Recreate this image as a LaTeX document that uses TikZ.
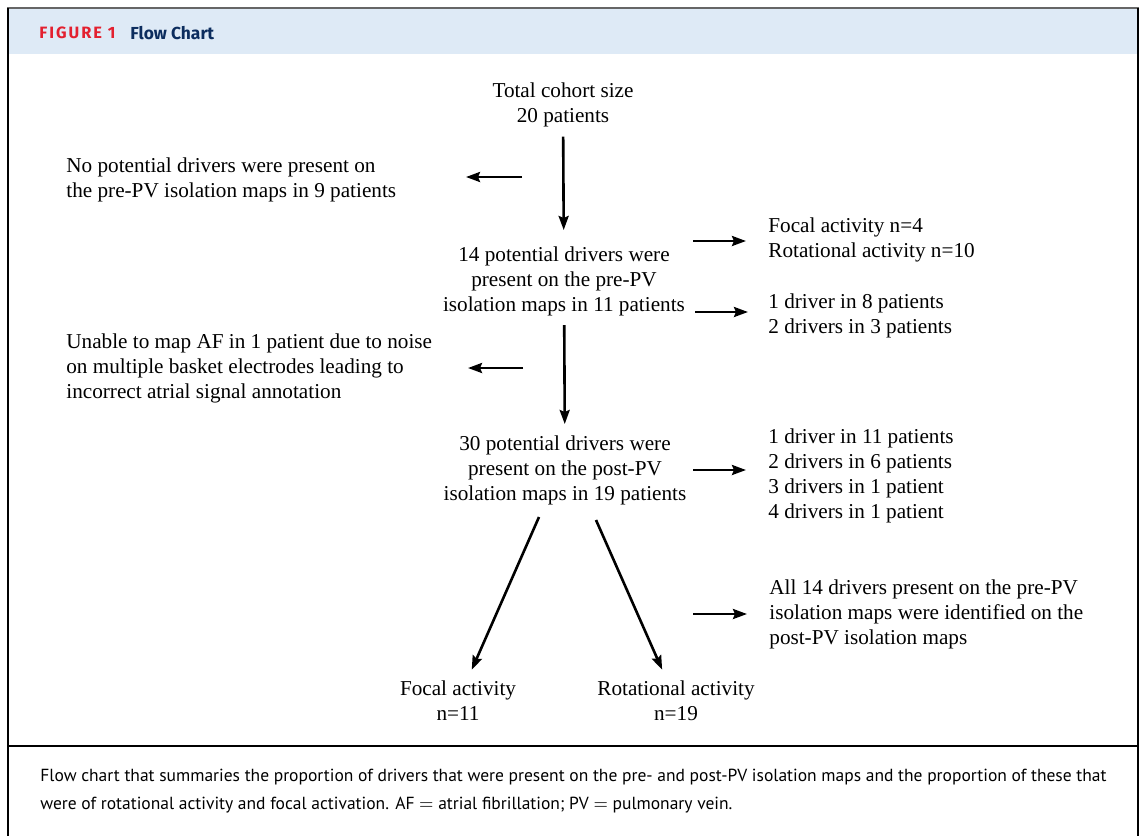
\documentclass[tikz,border=0pt]{standalone}
\usepackage{fontspec}
\setmainfont{Liberation Serif}
\setsansfont{PT Sans}
\newfontfamily\headfont{Fira Sans}
\usetikzlibrary{arrows.meta}
\definecolor{bandblue}{HTML}{DEEAF6}
\definecolor{figred}{HTML}{E3202F}
\definecolor{titlenavy}{HTML}{0C2D5E}

\begin{document}
\begin{tikzpicture}[x=0.5pt, y=-0.5pt,
    box/.style={inner sep=0pt, font=\fontsize{10.6}{12.5}\selectfont},
    mid/.style={box, align=center},
    side/.style={box, align=left, anchor=west},
    arr/.style={-{Stealth[length=7pt, width=5pt, inset=1pt]}, line width=1.3pt}]
    \useasboundingbox (0,0) rectangle (1142,836);
    % frame and header
    \fill[bandblue] (8,9) rectangle (1138,54);
    \draw[black!60, line width=1pt] (7,8) -- (1139,8);
    \draw[line width=1pt] (8,8) -- (8,836);
    \draw[line width=1pt] (1138,8) -- (1138,836);
    \draw[line width=0.8pt] (8,746) -- (1138,746);
    \node[anchor=west, inner sep=0pt, text=figred, font=\headfont\bfseries\fontsize{8.2}{9}\selectfont\addfontfeatures{LetterSpace=12}] (fig) at (39,33) {FIGURE 1};
    \node[anchor=west, inner sep=0pt, text=titlenavy, font=\headfont\bfseries\fontsize{8.7}{9}\selectfont] (title) at (130,33) {Flow Chart};
    % flow chart
    \node[mid] (total) at (563,105) {Total cohort size\\20 patients};
    \node[side] (nopd) at (66,180) {No potential drivers were present on\\the pre-PV isolation maps in 9 patients};
    \node[mid] (pre) at (564,281) {14 potential drivers were\\present on the pre-PV\\isolation maps in 11 patients};
    \node[side] (foc) at (768,240) {Focal activity n=4\\Rotational activity n=10};
    \node[side] (drv) at (768,316) {1 driver in 8 patients\\2 drivers in 3 patients};
    \node[side] (unable) at (66,368) {Unable to map AF in 1 patient due to noise\\on multiple basket electrodes leading to\\incorrect atrial signal annotation};
    \node[mid] (post) at (565,470) {30 potential drivers were\\present on the post-PV\\isolation maps in 19 patients};
    \node[side] (cnt) at (768,476) {1 driver in 11 patients\\2 drivers in 6 patients\\3 drivers in 1 patient\\4 drivers in 1 patient};
    \node[side] (all) at (769,614) {All 14 drivers present on the pre-PV\\isolation maps were identified on the\\post-PV isolation maps};
    \node[mid] (focal) at (458,701) {Focal activity\\n=11};
    \node[mid] (rot) at (676,701) {Rotational activity\\n=19};
    % free arrow ends
    \coordinate (l1a) at (522,177);
    \coordinate (l1b) at (466,177);
    \coordinate (l2a) at (523,368);
    \coordinate (l2b) at (468,368);
    \coordinate (r1) at (693,241);
    \coordinate (r2) at (695,312);
    \coordinate (r3) at (693,470);
    \coordinate (r4) at (693,614);
    \coordinate (pl) at (539,517);
    \coordinate (pr) at (596,520);
    % arrows
    \draw[arr, shorten <=4.5pt, shorten >=8pt] (total) -- (pre);
    \draw[arr, shorten <=4.5pt, shorten >=5.5pt] (pre) -- (post);
    \draw[arr] (l1a) -- (l1b);
    \draw[arr] (l2a) -- (l2b);
    \draw[arr, shorten >=11pt] (r1) -- (r1 -| foc.west);
    \draw[arr, shorten >=10pt] (r2) -- (r2 -| drv.west);
    \draw[arr, shorten >=11pt] (r3) -- (r3 -| cnt.west);
    \draw[arr, shorten >=11pt] (r4) -- (r4 -| all.west);
    \draw[arr, shorten >=6pt] (pl) -- (focal);
    \draw[arr, shorten >=6pt] (pr) -- (rot);
    % caption
    \node[anchor=west, align=left, inner sep=0pt, font=\sffamily\fontsize{8.75}{14}\selectfont] (cap) at (40,791) {Flow chart that summaries the proportion of drivers that were present on the pre- and post-PV isolation maps and the proportion of these that\\were of rotational activity and focal activation. AF $=$ atrial fibrillation; PV $=$ pulmonary vein.};
\end{tikzpicture}
\end{document}
